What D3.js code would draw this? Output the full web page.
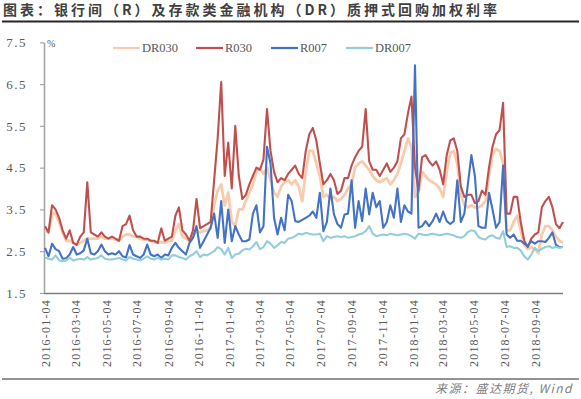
<!DOCTYPE html>
<html>
<head>
<meta charset="utf-8">
<script src="https://cdn.jsdelivr.net/npm/d3@7"></script>
<style>
  body { margin: 0; background: #fff; }
  svg { display: block; }
</style>
</head>
<body>
<div id="chart"></div>
<script>
// 系列名と色
const seriesNames = ["DR030", "R030", "R007", "DR007"];
const seriesColors = ["#F8CBAD", "#C0504D", "#4472C4", "#92CDDC"];
const seriesWidths = [2.8, 2.1, 2.1, 2.1];

// x軸の目盛りラベル
const xTickLabels = ["2016-01-04", "2016-03-04", "2016-05-04", "2016-07-04", "2016-09-04", "2016-11-04",
  "2017-01-04", "2017-03-04", "2017-05-04", "2017-07-04", "2017-09-04", "2017-11-04",
  "2018-01-04", "2018-03-04", "2018-05-04", "2018-07-04", "2018-09-04"];
const yTicks = [1.5, 2.5, 3.5, 4.5, 5.5, 6.5, 7.5];

// 週次の値(2016-01-04 ~ 2018-10-29, 月曜日)
const DR030 = [3.0, 2.95, 3.4, 3.4, 3.2, 2.95, 2.75, 2.75, 2.7, 2.65,
  2.7, 2.75, 2.8, 2.8, 2.8, 2.8, 2.85, 2.8, 2.8, 2.8,
  2.78, 2.75, 2.85, 2.9, 2.9, 2.85, 2.85, 2.8, 2.78, 2.78,
  2.75, 2.72, 2.7, 2.72, 2.7, 2.75, 2.75, 3.0, 3.15, 2.85,
  2.8, 2.75, 2.85, 3.0, 2.95, 2.98, 3.0, 3.05, 3.6, 3.95,
  4.1, 3.6, 3.9, 3.2, 3.1, 3.5, 3.5, 3.7, 3.9, 4.1,
  4.4, 4.5, 4.35, 4.5, 4.2, 3.9, 3.8, 4.05, 4.15, 4.2,
  4.1, 4.2, 4.05, 3.7, 4.4, 4.9, 4.9, 4.6, 4.3, 3.8,
  3.85, 3.75, 3.8, 3.7, 3.75, 3.85, 4.0, 4.1, 4.5, 4.6,
  4.65, 4.55, 4.45, 4.3, 4.2, 4.15, 4.2, 4.25, 4.1, 4.2,
  4.35, 4.6, 4.9, 5.2, 5.0, 3.8, 3.9, 4.4, 4.3, 4.2,
  4.15, 4.1, 4.0, 3.8, 4.4, 4.85, 4.9, 4.6, 3.85, 3.6,
  3.55, 3.6, 3.55, 3.55, 3.6, 3.7, 4.3, 4.8, 4.95, 4.9,
  4.6, 3.0, 3.0, 3.2, 3.35, 3.0, 2.65, 2.55, 2.6, 2.55,
  2.45, 2.9, 3.1, 3.1, 3.0, 2.85, 2.75, 2.7];

const R030 = [3.1, 2.95, 3.6, 3.5, 3.3, 3.0, 2.8, 3.0, 2.7, 2.65,
  2.85, 2.95, 4.15, 2.95, 2.9, 2.85, 2.95, 2.85, 2.8, 2.85,
  2.8, 2.75, 3.1, 3.15, 3.35, 3.0, 2.85, 2.85, 2.8, 2.8,
  2.75, 2.75, 2.7, 3.05, 2.75, 2.8, 2.85, 3.35, 3.55, 3.0,
  2.9, 2.75, 3.0, 3.75, 3.05, 3.1, 3.15, 3.2, 4.2, 5.2,
  6.55, 4.3, 5.1, 4.0, 5.5, 4.3, 3.75, 3.85, 4.1, 4.3,
  4.5, 4.45, 4.7, 5.9, 4.9, 4.4, 4.15, 4.25, 4.2, 4.35,
  4.45, 4.55, 4.35, 4.25, 4.9, 5.3, 5.45, 5.15, 4.6, 4.1,
  4.2, 4.35, 4.2, 3.87, 3.95, 4.25, 4.25, 4.55, 4.75, 4.9,
  5.0, 5.9, 4.65, 4.45, 4.45, 4.3, 4.45, 4.6, 4.4, 4.5,
  4.65, 5.2, 5.3, 5.8, 6.2, 4.5, 3.95, 4.75, 4.8, 4.65,
  4.55, 4.65, 4.45, 4.1, 4.8, 5.15, 5.2, 4.9, 4.05, 3.8,
  3.85, 3.85, 3.65, 3.7, 3.95, 3.85, 4.5, 5.0, 5.3, 5.4,
  6.05, 3.4, 3.4, 3.8, 3.8, 3.2, 2.75, 2.6, 2.8, 2.9,
  2.95, 3.55, 3.7, 3.8, 3.55, 3.15, 3.05, 3.2];

const R007 = [2.58, 2.38, 2.68, 2.55, 2.5, 2.32, 2.33, 2.42, 2.6, 2.42,
  2.45, 2.52, 2.8, 2.45, 2.42, 2.5, 2.66, 2.5, 2.42, 2.45,
  2.42, 2.5, 2.38, 2.35, 2.65, 2.42, 2.38, 2.34, 2.42, 2.66,
  2.42, 2.38, 2.42, 2.34, 2.42, 2.4, 2.58, 2.7, 2.58, 2.5,
  2.42, 2.7, 2.82, 3.1, 2.58, 2.74, 2.9, 3.06, 3.4, 2.82,
  3.7, 2.7, 3.5, 2.74, 3.1, 2.9, 2.74, 2.74, 2.78, 3.4,
  3.6, 2.95, 3.1, 5.0, 4.6, 3.3, 2.9, 3.3, 3.0, 3.85,
  3.7, 3.22, 3.2, 3.25, 3.3, 3.35, 3.45, 3.3, 3.9, 2.98,
  3.2, 4.0, 3.38, 3.15, 3.06, 3.38, 3.4, 4.2, 3.06, 3.7,
  3.22, 4.0, 3.38, 3.9, 3.55, 3.7, 3.06, 3.2, 3.6, 3.3,
  4.0, 3.2, 3.6, 3.45, 3.4, 6.95, 3.06, 3.1, 3.22, 3.1,
  3.22, 3.4, 3.2, 3.45, 3.22, 3.15, 3.22, 4.2, 3.2, 3.4,
  4.1, 4.8, 4.3, 3.1, 3.06, 3.06, 3.9, 3.5, 3.06, 3.2,
  4.55, 2.9, 2.82, 2.9, 2.75, 2.75, 2.68, 2.62, 2.74, 2.68,
  2.74, 2.74, 2.72, 2.82, 2.95, 2.65, 2.6, 2.6];

const DR007 = [2.35, 2.32, 2.3, 2.4, 2.28, 2.26, 2.28, 2.34, 2.28, 2.3,
  2.32, 2.3, 2.36, 2.3, 2.32, 2.34, 2.4, 2.32, 2.3, 2.3,
  2.32, 2.34, 2.3, 2.28, 2.36, 2.32, 2.3, 2.28, 2.32, 2.38,
  2.32, 2.3, 2.34, 2.3, 2.32, 2.3, 2.4, 2.4, 2.36, 2.34,
  2.3, 2.38, 2.42, 2.5, 2.36, 2.42, 2.4, 2.45, 2.5, 2.6,
  2.55, 2.42, 2.58, 2.34, 2.42, 2.44, 2.52, 2.56, 2.54, 2.62,
  2.72, 2.55, 2.6, 2.74, 2.68, 2.58, 2.64, 2.72, 2.7, 2.8,
  2.82, 2.86, 2.92, 2.9, 2.94, 2.92, 2.9, 2.9, 2.92, 2.74,
  2.86, 2.82, 2.84, 2.86, 2.84, 2.86, 2.82, 2.84, 2.86, 2.9,
  2.92, 2.98, 3.1, 2.92, 2.86, 2.88, 2.9, 2.88, 2.92, 2.9,
  2.88, 2.9, 2.92, 2.9, 2.86, 2.8, 2.92, 2.9, 2.88, 2.9,
  2.92, 2.9, 2.88, 2.9, 2.92, 2.9, 2.88, 2.84, 2.82, 2.86,
  2.96, 3.0, 2.98, 2.84, 2.8, 2.78, 2.86, 2.88, 2.82, 2.8,
  2.98, 2.6, 2.62, 2.58, 2.58, 2.52, 2.38, 2.3, 2.42, 2.58,
  2.5, 2.56, 2.6, 2.62, 2.58, 2.6, 2.58, 2.6];

const width = 581, height = 399;
const parseDate = d3.timeParse("%Y-%m-%d");
// 週の日付(月曜日)
const dates = d3.timeMonday.range(parseDate("2016-01-04"), parseDate("2018-10-30"));
const seriesValues = [DR030, R030, R007, DR007];

const svg = d3.select("#chart")
  .append("svg")
  .attr("width", width)
  .attr("height", height)
  .attr("viewBox", `0 0 ${width} ${height}`);

// タイトル
svg.append("text")
  .attr("x", 3)
  .attr("y", 15)
  .attr("font-family", "'Noto Sans CJK SC', sans-serif")
  .attr("font-size", 14)
  .attr("font-weight", "bold")
  .attr("letter-spacing", 3)
  .attr("fill", "#404040")
  .text("图表：银行间（R）及存款类金融机构（DR）质押式回购加权利率");

svg.append("line")
  .attr("x1", 2).attr("x2", 579)
  .attr("y1", 21.5).attr("y2", 21.5)
  .attr("stroke", "#262626")
  .attr("stroke-width", 1.8);

// スケール
const x = d3.scaleTime()
  .domain([parseDate("2016-01-04"), dates[dates.length - 1]])
  .range([45, 563]);
const y = d3.scaleLinear()
  .domain([1.5, 7.5])
  .range([293, 42.3]);

// y軸
const yAxis = svg.append("g")
  .attr("transform", "translate(44,0)")
  .call(d3.axisLeft(y).tickValues(yTicks).tickSize(4).tickSizeOuter(0).tickPadding(13).tickFormat(d3.format(".1f")));
yAxis.select(".domain").attr("stroke", "#A6A6A6").attr("stroke-width", 1.6);
yAxis.selectAll(".tick line").attr("stroke", "#A6A6A6").attr("stroke-width", 1.2);
yAxis.selectAll(".tick text")
  .attr("font-family", "'Liberation Serif', serif")
  .attr("font-size", 13)
  .attr("letter-spacing", 1.5)
  .attr("fill", "#595959");

// x軸
const xAxis = svg.append("g")
  .attr("transform", "translate(0,293)")
  .call(d3.axisBottom(x).tickValues(xTickLabels.map(parseDate)).tickSize(0).tickSizeOuter(0).tickFormat(d3.timeFormat("%Y-%m-%d")));
xAxis.select(".domain").attr("stroke", "#808080").attr("stroke-width", 1.4)
  .attr("d", "M44,0.5H563");
xAxis.selectAll(".tick text")
  .attr("font-family", "'Liberation Serif', serif")
  .attr("font-size", 12)
  .attr("letter-spacing", 1.2)
  .attr("fill", "#595959")
  .attr("text-anchor", "end")
  .attr("transform", "rotate(-90)")
  .attr("x", -6)
  .attr("y", 0)
  .attr("dy", "0.35em");

// 単位
svg.append("text")
  .attr("x", 47).attr("y", 47)
  .attr("font-family", "'Liberation Serif', serif")
  .attr("font-size", 10)
  .attr("fill", "#595959")
  .text("%");

// 折れ線
const line = d3.line()
  .x((d, i) => x(dates[i]))
  .y(d => y(d));

seriesValues.forEach((vals, k) => {
  svg.append("path")
    .datum(vals)
    .attr("fill", "none")
    .attr("stroke", seriesColors[k])
    .attr("stroke-width", seriesWidths[k])
    .attr("stroke-linejoin", "round")
    .attr("d", line);
});

// 凡例
const legendX = [113, 196, 271, 346];
const legend = svg.selectAll(".legend")
  .data(seriesNames)
  .enter()
  .append("g")
  .attr("transform", (d, i) => `translate(${legendX[i]},48)`);
legend.append("line")
  .attr("x1", 0).attr("x2", 27)
  .attr("stroke", (d, i) => seriesColors[i])
  .attr("stroke-width", 2.2);
legend.append("text")
  .attr("x", 29)
  .attr("dy", "0.35em")
  .attr("font-family", "'Liberation Serif', serif")
  .attr("font-size", 12.5)
  .attr("fill", "#595959")
  .text(d => d);

// 下の線と出所
svg.append("line")
  .attr("x1", 2).attr("x2", 579)
  .attr("y1", 379).attr("y2", 379)
  .attr("stroke", "#262626")
  .attr("stroke-width", 1);

svg.append("text")
  .attr("x", 573)
  .attr("y", 393)
  .attr("text-anchor", "end")
  .attr("font-family", "'Noto Sans CJK SC', sans-serif")
  .attr("font-size", 12)
  .attr("font-style", "italic")
  .attr("letter-spacing", 1.5)
  .attr("fill", "#808080")
  .text("来源：盛达期货, Wind");
</script>
</body>
</html>
